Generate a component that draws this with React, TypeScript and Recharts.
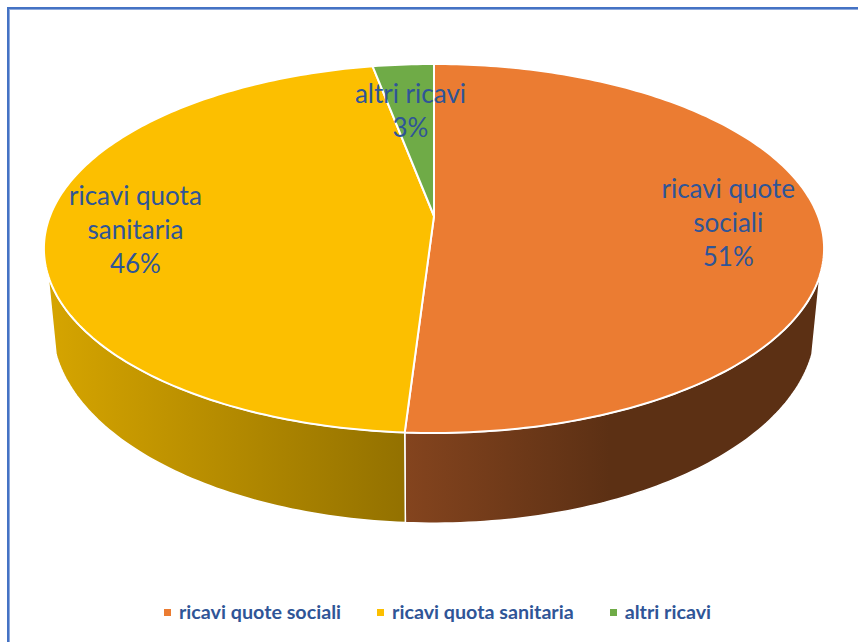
import { Legend, Pie, PieChart } from "recharts";

const categories = ["ricavi quote sociali", "ricavi quota sanitaria", "altri ricavi"];
const shares = [51, 46, 3];
const topColors = ["#EB7C32", "#FCBF00", "#6FAB47"];
const sideFills = ["url(#sideOrange)", "url(#sideYellow)", "none"];
const labelLines = [["ricavi quote", "sociali"], ["ricavi quota", "sanitaria"], ["altri ricavi"]];
const labelRadius = [0.766, 0.775, 0.665];
const labelShiftX = [-1, 1, -2];
const labelShiftY = [2, 4, 0];

const rows = categories.map((name, i) => ({ name, value: shares[i], fill: topColors[i] }));

const TEXT_BLUE = "#2F5597";
const FONT = "Lato, sans-serif";

// perspective of the disc: k is how much nearer points grow
const K = 0.176;
const TOP = { cx: 434, cy: 216, r: 384, h: 178.8 };
const BOTTOM = { cx: 434, cy: 291, r: 376, h: 191.3 };
// part of the rim (degrees clockwise from 12 o'clock) where the wall faces the viewer
const FRONT_FROM = 108.2;
const FRONT_TO = 251.8;

type Disc = typeof TOP;

function project(d: Disc, deg: number, f = 1) {
  const t = (deg * Math.PI) / 180;
  const u = Math.sin(t) * f;
  const v = -Math.cos(t) * f;
  const w = 1 - K * v;
  return [d.cx + (d.r * u) / w, d.cy + (d.h * v) / w];
}

function rim(d: Disc, from: number, to: number) {
  const pts: number[][] = [];
  const steps = Math.max(2, Math.ceil(Math.abs(to - from)));
  for (let i = 0; i <= steps; i++) pts.push(project(d, from + ((to - from) * i) / steps));
  return pts;
}

const toPath = (pts: number[][]) =>
  pts.map((p, i) => `${i ? "L" : "M"}${p[0].toFixed(2)} ${p[1].toFixed(2)}`).join(" ");

function TopSlice(props: any) {
  const from = 90 - props.startAngle;
  const to = 90 - props.endAngle;
  const d = `M${TOP.cx} ${TOP.cy} ${toPath(rim(TOP, from, to)).replace("M", "L")} Z`;
  return <path d={d} fill={props.fill} stroke="#fff" strokeWidth={2} strokeLinejoin="round" />;
}

function SideSlice(props: any) {
  const from = Math.max(90 - props.startAngle, FRONT_FROM);
  const to = Math.min(90 - props.endAngle, FRONT_TO);
  if (to <= from) return <g />;
  const upper = rim(TOP, from, to);
  const lower = rim(BOTTOM, from, to).reverse();
  const d = `${toPath(upper)} ${toPath(lower).replace("M", "L")} Z`;
  return <path d={d} fill={sideFills[props.index]} stroke="#fff" strokeWidth={1.5} strokeLinejoin="round" />;
}

function SliceLabel(props: any) {
  const i = props.index;
  const [px, py] = project(TOP, 90 - props.midAngle, labelRadius[i]);
  const x = px + labelShiftX[i];
  const lines = [...labelLines[i], `${shares[i]}%`];
  const first = py + labelShiftY[i] - ((lines.length - 1) * 34) / 2;
  return (
    <text x={x} y={first} textAnchor="middle" dominantBaseline="central" fill={TEXT_BLUE} fontFamily={FONT} fontSize={26}>
      {lines.map((line, n) => (
        <tspan key={n} x={x} y={first + n * 34}>
          {line}
        </tspan>
      ))}
    </text>
  );
}

// both pies report legend entries, so each category is listed once and in data order
function LegendRow({ payload }: any) {
  const items = categories.map((name) => (payload ?? []).find((entry: any) => entry.value === name)).filter(Boolean);
  return (
    <div style={{ display: "flex", alignItems: "center", whiteSpace: "nowrap", fontFamily: FONT, fontSize: 19.7, fontWeight: 700, color: TEXT_BLUE, lineHeight: "20px" }}>
      {items.map((entry: any) => (
        <div key={entry.value} style={{ display: "flex", alignItems: "center", marginRight: 36 }}>
          <span style={{ width: 7, height: 7, background: entry.color, marginRight: 8 }} />
          {entry.value}
        </div>
      ))}
    </div>
  );
}

export default function App() {
  return (
    <div style={{ position: "absolute", left: 0, top: 0, width: 858, height: 642, background: "#fff", overflow: "hidden" }}>
      <div
        style={{
          position: "absolute",
          left: 7,
          top: 7,
          right: 0,
          bottom: 0,
          borderTop: "2px solid #4472C4",
          borderLeft: "2px solid #4472C4",
          boxShadow: "inset 1px 1px 0 #8FAADC",
        }}
      />
      <div style={{ position: "absolute", left: 0, top: 0 }}>
        <PieChart width={858} height={642} margin={{ top: 0, right: 0, bottom: 0, left: 0 }}>
          <defs>
            <linearGradient id="sideOrange" gradientUnits="userSpaceOnUse" x1={405} y1={0} x2={610} y2={0}>
              <stop offset="0" stopColor="#84441E" />
              <stop offset="1" stopColor="#5C3014" />
            </linearGradient>
            <linearGradient id="sideYellow" gradientUnits="userSpaceOnUse" x1={46} y1={0} x2={405} y2={0}>
              <stop offset="0" stopColor="#D6A500" />
              <stop offset="1" stopColor="#937100" />
            </linearGradient>
          </defs>
          <Pie
            data={rows}
            dataKey="value"
            nameKey="name"
            cx={BOTTOM.cx}
            cy={BOTTOM.cy}
            outerRadius={BOTTOM.r}
            startAngle={90}
            endAngle={-270}
            shape={SideSlice}
            legendType="none"
            isAnimationActive={false}
          />
          <Pie
            data={rows}
            dataKey="value"
            nameKey="name"
            cx={TOP.cx}
            cy={TOP.cy}
            outerRadius={TOP.r}
            startAngle={90}
            endAngle={-270}
            shape={TopSlice}
            label={SliceLabel}
            labelLine={false}
            legendType="square"
            isAnimationActive={false}
          />
          <Legend
            content={LegendRow}
            layout="horizontal"
            wrapperStyle={{ position: "absolute", left: 164, top: 602, width: 680, height: 20, bottom: "auto" }}
          />
        </PieChart>
      </div>
    </div>
  );
}
